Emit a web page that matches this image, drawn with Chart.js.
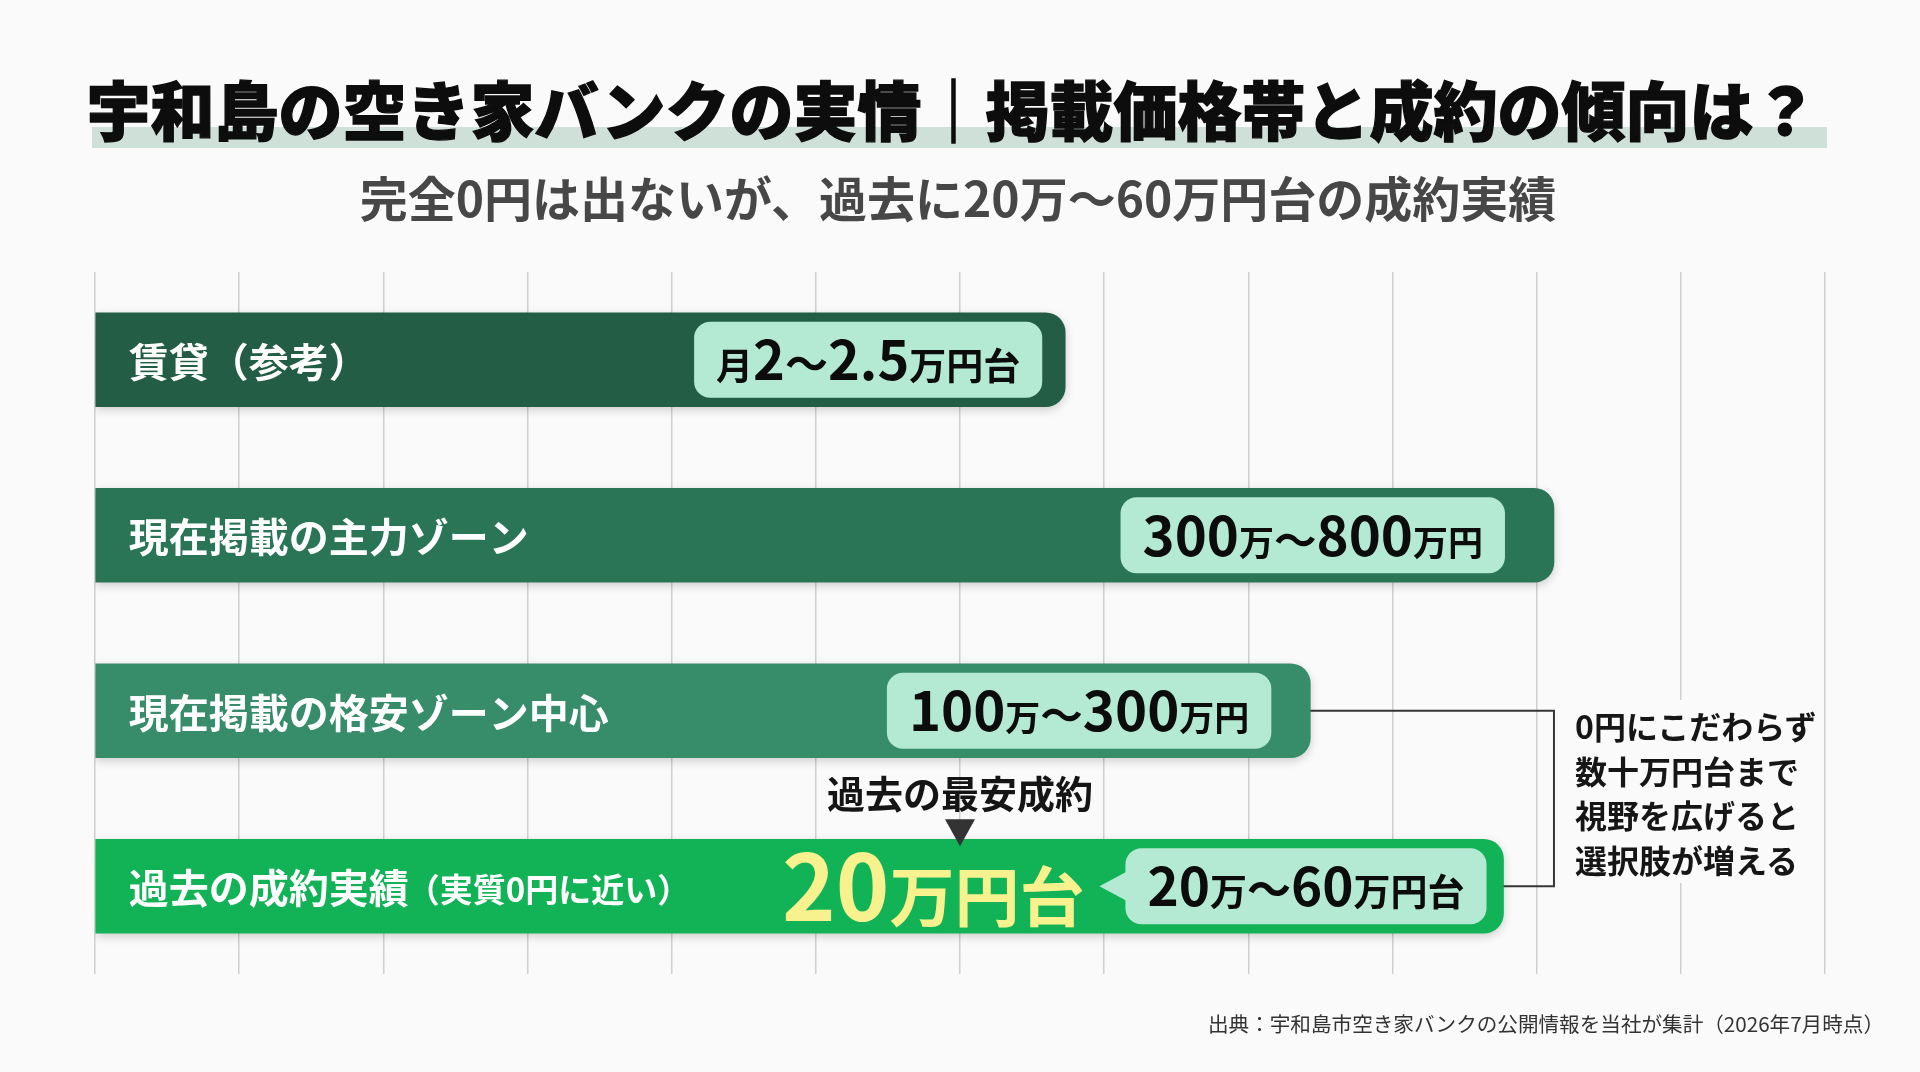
<!DOCTYPE html>
<html lang="ja">
<head>
<meta charset="utf-8">
<script src="https://cdn.jsdelivr.net/npm/chart.js@4.4.1/dist/chart.umd.min.js"></script>
<style>
html,body{margin:0;padding:0;background:#fafafa;}
body{width:1920px;height:1072px;position:relative;overflow:hidden;font-family:"Noto Sans CJK JP","Noto Sans",sans-serif;}
canvas{position:absolute;left:0;top:0;}
.t{position:absolute;white-space:nowrap;margin:0;}
#band{position:absolute;left:92px;top:127px;width:1735px;height:21px;background:#cfe0d8;}
#title{left:0;width:1904px;text-align:center;top:75px;font-size:64px;line-height:64px;font-weight:900;color:#0d0d0d;-webkit-text-stroke:1.3px #0d0d0d;}
#subtitle{left:0;width:1916px;text-align:center;top:172px;font-size:48px;line-height:48px;font-weight:700;color:#474747;}
#noteBox{position:absolute;left:1560px;top:700px;width:255px;height:183px;background:#fafafa;}
#note{left:1575px;top:703px;font-size:32px;line-height:44.5px;font-weight:700;color:#161616;}
#source{right:36px;top:1013px;font-size:20.6px;line-height:21px;font-weight:400;color:#333;}
</style>
</head>
<body>
<div id="band"></div>
<canvas id="c" width="1920" height="1072"></canvas>
<h1 class="t" id="title">宇和島の空き家バンクの実情｜掲載価格帯と成約の傾向は？</h1>
<div class="t" id="subtitle">完全0円は出ないが、過去に20万〜60万円台の成約実績</div>
<div id="noteBox"></div>
<div class="t" id="note">0円にこだわらず<br>数十万円台まで<br>視野を広げると<br>選択肢が増える</div>
<div class="t" id="source">出典：宇和島市空き家バンクの公開情報を当社が集計（2026年7月時点）</div>
<script>
// ---- data ----
const categories = ['賃貸（参考）', '現在掲載の主力ゾーン', '現在掲載の格安ゾーン中心', '過去の成約実績'];
const categoryNotes = ['', '', '', '（実質0円に近い）'];
const barLengths = [6.73, 10.12, 8.43, 9.77];          // illustrative bar length on a 0–12 grid
const priceLabels = ['月2〜2.5万円台', '300万〜800万円', '100万〜300万円', '20万〜60万円台'];
const highlightLabel = '20万円台';
const markerLabel = '過去の最安成約';
const markerValue = 6;
const gridMin = 0, gridMax = 12, gridStep = 1;

// ---- style ----
const FONT = '"Noto Sans CJK JP","Noto Sans",sans-serif';
const barColors = ['#245d45', '#2a7556', '#378c6a', '#12b257'];
const pillColor = '#b4ead3';
const pillStyle = [
  {num: 54, kan: 37, til: 43, inset: 23},
  {num: 54.5, kan: 35, til: 42.5, inset: 49},
  {num: 54.5, kan: 35, til: 42.5, inset: 39},
  {num: 53, kan: 37, til: 44, inset: 17}
];

function splitRuns(text) {
  const out = [];
  for (const ch of text) {
    const k = /[0-9.]/.test(ch) ? 'num' : (ch === '〜' ? 'til' : 'kan');
    if (out.length && out[out.length - 1].k === k) out[out.length - 1].t += ch;
    else out.push({k, t: ch});
  }
  return out;
}
function measureRuns(ctx, runs, st) {
  let w = 0;
  runs.forEach(r => { ctx.font = `700 ${st[r.k]}px ${FONT}`; r.w = ctx.measureText(r.t).width; w += r.w; });
  return w;
}
function drawRuns(ctx, runs, st, x, baseline) {
  runs.forEach(r => { ctx.font = `700 ${st[r.k]}px ${FONT}`; ctx.fillText(r.t, x, baseline); x += r.w; });
}

const shadowPlugin = {
  id: 'shadow',
  beforeDatasetDraw(chart) {
    const ctx = chart.ctx; ctx.save();
    ctx.shadowColor = 'rgba(0,0,0,0.18)'; ctx.shadowBlur = 10; ctx.shadowOffsetY = 3;
  },
  afterDatasetDraw(chart) { chart.ctx.restore(); }
};

const overlayPlugin = {
  id: 'overlay',
  afterDatasetsDraw(chart) {
    const ctx = chart.ctx;
    const bars = chart.getDatasetMeta(0).data;
    const xs = chart.scales.x;
    ctx.save();
    const geo = bars.map(b => {
      const p = b.getProps(['x', 'y', 'base', 'height'], true);
      return {right: p.x, cy: p.y, left: p.base, top: p.y - p.height / 2, bottom: p.y + p.height / 2};
    });

    // connector bracket
    const g2 = geo[1], g3 = geo[2], g4 = geo[3];
    ctx.strokeStyle = '#363636'; ctx.lineWidth = 2;
    ctx.beginPath();
    ctx.moveTo(g3.right, g3.cy); ctx.lineTo(g2.right, g3.cy);
    ctx.lineTo(g2.right, g4.cy); ctx.lineTo(g4.right, g4.cy);
    ctx.stroke();

    geo.forEach((g, i) => {
      // category label
      ctx.fillStyle = '#ffffff';
      ctx.textBaseline = 'middle'; ctx.textAlign = 'left';
      ctx.font = `700 40px ${FONT}`;
      ctx.fillText(categories[i], g.left + 33, g.cy + 2);
      if (categoryNotes[i]) {
        const w = ctx.measureText(categories[i]).width;
        ctx.font = `700 33px ${FONT}`;
        ctx.fillText(categoryNotes[i], g.left + 33 + w - 2, g.cy + 3);
      }
      // price pill
      const st = pillStyle[i];
      const runs = splitRuns(priceLabels[i]);
      const tw = measureRuns(ctx, runs, st);
      const pr = g.right - st.inset, pl = pr - tw - 44;
      const ph = 76, pt = g.cy - ph / 2;
      ctx.fillStyle = pillColor;
      ctx.beginPath(); ctx.roundRect(pl, pt, pr - pl, ph, 16); ctx.fill();
      if (i === 3) {
        ctx.beginPath();
        ctx.moveTo(pl + 2, g.cy - 15); ctx.lineTo(pl - 26, g.cy); ctx.lineTo(pl + 2, g.cy + 15);
        ctx.closePath(); ctx.fill();
      }
      ctx.fillStyle = '#0c0c0c'; ctx.textBaseline = 'alphabetic';
      drawRuns(ctx, runs, st, pl + 22, g.cy + st.num * 0.36 + 1);

      if (i === 3) {
        // big highlight label
        const hs = {num: 91, kan: 65, til: 65};
        const hr = splitRuns(highlightLabel);
        const hw = measureRuns(ctx, hr, hs);
        let x = pl - 41 - hw;
        const base = g.cy + 35;
        ctx.lineJoin = 'round';
        hr.forEach(r => {
          ctx.font = `700 ${hs[r.k]}px ${FONT}`;
          ctx.strokeStyle = barColors[3]; ctx.lineWidth = 9;
          ctx.strokeText(r.t, x, base);
          ctx.fillStyle = '#f7f28e';
          ctx.fillText(r.t, x, base);
          x += r.w;
        });
        // marker
        const mx = xs.getPixelForValue(markerValue);
        ctx.fillStyle = '#333333';
        ctx.beginPath();
        ctx.moveTo(mx - 15, g.top - 20); ctx.lineTo(mx + 15, g.top - 20); ctx.lineTo(mx, g.top + 7);
        ctx.closePath(); ctx.fill();
        ctx.fillStyle = '#151515'; ctx.textAlign = 'center'; ctx.textBaseline = 'middle';
        ctx.font = `700 38px ${FONT}`;
        ctx.fillText(markerLabel, mx, g.top - 46);
      }
    });
    ctx.restore();
  }
};

function build() {
  new Chart(document.getElementById('c'), {
    type: 'bar',
    data: {
      labels: categories,
      datasets: [{
        data: barLengths,
        backgroundColor: barColors,
        borderRadius: 20,
        borderSkipped: 'start',
        barThickness: 94
      }]
    },
    options: {
      indexAxis: 'y',
      responsive: false,
      animation: false,
      events: [],
      layout: {padding: {left: 95, right: 95, top: 272, bottom: 98}},
      plugins: {legend: {display: false}, tooltip: {enabled: false}, title: {display: false}},
      scales: {
        x: {
          type: 'linear', min: gridMin, max: gridMax,
          ticks: {display: false, stepSize: gridStep},
          grid: {color: '#cfcfcf', lineWidth: 1.5, drawTicks: false},
          border: {display: false}
        },
        y: {display: false}
      }
    },
    plugins: [shadowPlugin, overlayPlugin]
  });
}
if (document.fonts && document.fonts.load) {
  Promise.all([
    document.fonts.load(`700 40px ${FONT}`, '賃貸'),
    document.fonts.load(`900 64px ${FONT}`, '宇和島')
  ]).then(build, build);
} else build();
</script>
</body>
</html>
